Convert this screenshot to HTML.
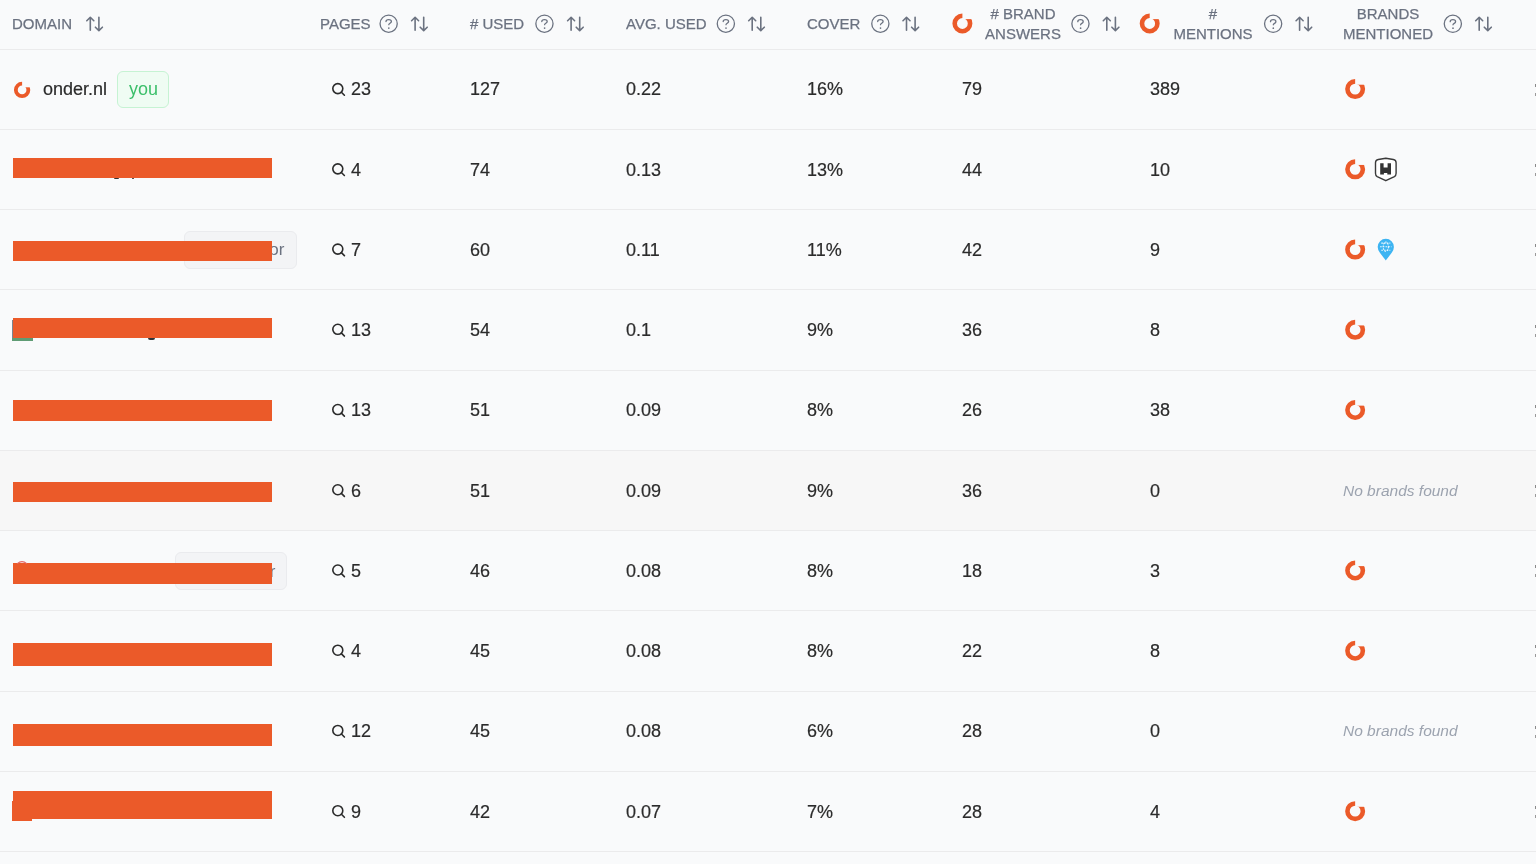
<!DOCTYPE html>
<html><head><meta charset="utf-8"><style>
html,body{margin:0;padding:0}
body{width:1536px;height:864px;overflow:hidden;background:#f9fafb;position:relative;font-family:"Liberation Sans",sans-serif}
.t{position:absolute;white-space:nowrap;will-change:transform}
.row{position:absolute;left:0;width:1536px}
.bl{position:absolute;left:0;width:1536px;height:1px;background:#ebebec}
</style></head><body>
<div class="bl" style="top:48.7px"></div>
<div class="t" style="left:12.00px;top:13.80px;font-size:15px;line-height:20px;color:#6b7280;;-webkit-text-stroke:0.25px #6b7280">DOMAIN</div>
<svg style="position:absolute;left:86px;top:16px" width="19" height="18" viewBox="0 0 19 18"><g transform="translate(0.000 0.300)"><g fill="none" stroke="#6b7280" stroke-width="1.6" stroke-linecap="round" stroke-linejoin="round"><path d="M4.3 14.0 V1.0 M0.8 4.4 L4.3 1.0 L7.8 4.4"/><path d="M12.9 1.0 V14.3 M9.4 10.9 L12.9 14.3 L16.4 10.9"/></g></g></svg>
<div class="t" style="left:319.50px;top:13.80px;font-size:15px;line-height:20px;color:#6b7280;;-webkit-text-stroke:0.25px #6b7280">PAGES</div>
<svg style="position:absolute;left:379px;top:14px" width="20" height="20" viewBox="0 0 20 20"><g transform="translate(0.400 0.300)"><circle cx="9.25" cy="9.39" r="8.6" fill="none" stroke="#6b7280" stroke-width="1.3"/><path d="M6.6 7.3 C6.6 5.9 7.8 5.25 9.3 5.25 C10.9 5.25 12.0 6.1 12.0 7.3 C12.0 8.9 9.4 9.0 9.4 10.4" fill="none" stroke="#6b7280" stroke-width="1.3" stroke-linecap="round"/><circle cx="9.4" cy="13.8" r="0.85" fill="#6b7280"/></g></svg>
<svg style="position:absolute;left:410px;top:16px" width="19" height="18" viewBox="0 0 19 18"><g transform="translate(0.800 0.300)"><g fill="none" stroke="#6b7280" stroke-width="1.6" stroke-linecap="round" stroke-linejoin="round"><path d="M4.3 14.0 V1.0 M0.8 4.4 L4.3 1.0 L7.8 4.4"/><path d="M12.9 1.0 V14.3 M9.4 10.9 L12.9 14.3 L16.4 10.9"/></g></g></svg>
<div class="t" style="left:470.30px;top:13.80px;font-size:15px;line-height:20px;color:#6b7280;;-webkit-text-stroke:0.25px #6b7280"># USED</div>
<svg style="position:absolute;left:535px;top:14px" width="20" height="20" viewBox="0 0 20 20"><g transform="translate(0.200 0.300)"><circle cx="9.25" cy="9.39" r="8.6" fill="none" stroke="#6b7280" stroke-width="1.3"/><path d="M6.6 7.3 C6.6 5.9 7.8 5.25 9.3 5.25 C10.9 5.25 12.0 6.1 12.0 7.3 C12.0 8.9 9.4 9.0 9.4 10.4" fill="none" stroke="#6b7280" stroke-width="1.3" stroke-linecap="round"/><circle cx="9.4" cy="13.8" r="0.85" fill="#6b7280"/></g></svg>
<svg style="position:absolute;left:566px;top:16px" width="19" height="18" viewBox="0 0 19 18"><g transform="translate(0.800 0.300)"><g fill="none" stroke="#6b7280" stroke-width="1.6" stroke-linecap="round" stroke-linejoin="round"><path d="M4.3 14.0 V1.0 M0.8 4.4 L4.3 1.0 L7.8 4.4"/><path d="M12.9 1.0 V14.3 M9.4 10.9 L12.9 14.3 L16.4 10.9"/></g></g></svg>
<div class="t" style="left:626.00px;top:13.80px;font-size:15px;line-height:20px;color:#6b7280;;-webkit-text-stroke:0.25px #6b7280">AVG. USED</div>
<svg style="position:absolute;left:716px;top:14px" width="20" height="20" viewBox="0 0 20 20"><g transform="translate(0.600 0.300)"><circle cx="9.25" cy="9.39" r="8.6" fill="none" stroke="#6b7280" stroke-width="1.3"/><path d="M6.6 7.3 C6.6 5.9 7.8 5.25 9.3 5.25 C10.9 5.25 12.0 6.1 12.0 7.3 C12.0 8.9 9.4 9.0 9.4 10.4" fill="none" stroke="#6b7280" stroke-width="1.3" stroke-linecap="round"/><circle cx="9.4" cy="13.8" r="0.85" fill="#6b7280"/></g></svg>
<svg style="position:absolute;left:747px;top:16px" width="19" height="18" viewBox="0 0 19 18"><g transform="translate(0.900 0.300)"><g fill="none" stroke="#6b7280" stroke-width="1.6" stroke-linecap="round" stroke-linejoin="round"><path d="M4.3 14.0 V1.0 M0.8 4.4 L4.3 1.0 L7.8 4.4"/><path d="M12.9 1.0 V14.3 M9.4 10.9 L12.9 14.3 L16.4 10.9"/></g></g></svg>
<div class="t" style="left:807.30px;top:13.80px;font-size:15px;line-height:20px;color:#6b7280;;-webkit-text-stroke:0.25px #6b7280">COVER</div>
<svg style="position:absolute;left:871px;top:14px" width="20" height="20" viewBox="0 0 20 20"><g transform="translate(0.100 0.300)"><circle cx="9.25" cy="9.39" r="8.6" fill="none" stroke="#6b7280" stroke-width="1.3"/><path d="M6.6 7.3 C6.6 5.9 7.8 5.25 9.3 5.25 C10.9 5.25 12.0 6.1 12.0 7.3 C12.0 8.9 9.4 9.0 9.4 10.4" fill="none" stroke="#6b7280" stroke-width="1.3" stroke-linecap="round"/><circle cx="9.4" cy="13.8" r="0.85" fill="#6b7280"/></g></svg>
<svg style="position:absolute;left:902px;top:16px" width="19" height="18" viewBox="0 0 19 18"><g transform="translate(0.200 0.300)"><g fill="none" stroke="#6b7280" stroke-width="1.6" stroke-linecap="round" stroke-linejoin="round"><path d="M4.3 14.0 V1.0 M0.8 4.4 L4.3 1.0 L7.8 4.4"/><path d="M12.9 1.0 V14.3 M9.4 10.9 L12.9 14.3 L16.4 10.9"/></g></g></svg>
<svg style="position:absolute;left:951px;top:12px" width="23" height="23" viewBox="0 0 23 23"><g transform="translate(0.400 0.500)"><defs><mask id="m1" maskUnits="userSpaceOnUse" x="-2" y="-2" width="26" height="26"><rect x="-2" y="-2" width="26" height="26" fill="#fff"/><rect x="11.00" y="-2" width="26" height="8.60" fill="#000"/></mask></defs><circle cx="11.00" cy="11.00" r="7.70" fill="none" stroke="#eb5a29" stroke-width="4.60" mask="url(#m1)"/></g></svg>
<div class="t" style="left:922.80px;width:200px;text-align:center;top:4.00px;font-size:15px;line-height:20px;color:#6b7280;-webkit-text-stroke:0.25px #6b7280"># BRAND</div>
<div class="t" style="left:922.80px;width:200px;text-align:center;top:24.00px;font-size:15px;line-height:20px;color:#6b7280;-webkit-text-stroke:0.25px #6b7280">ANSWERS</div>
<svg style="position:absolute;left:1071px;top:14px" width="20" height="20" viewBox="0 0 20 20"><g transform="translate(0.200 0.400)"><circle cx="9.25" cy="9.39" r="8.6" fill="none" stroke="#6b7280" stroke-width="1.3"/><path d="M6.6 7.3 C6.6 5.9 7.8 5.25 9.3 5.25 C10.9 5.25 12.0 6.1 12.0 7.3 C12.0 8.9 9.4 9.0 9.4 10.4" fill="none" stroke="#6b7280" stroke-width="1.3" stroke-linecap="round"/><circle cx="9.4" cy="13.8" r="0.85" fill="#6b7280"/></g></svg>
<svg style="position:absolute;left:1102px;top:16px" width="19" height="18" viewBox="0 0 19 18"><g transform="translate(0.500 0.300)"><g fill="none" stroke="#6b7280" stroke-width="1.6" stroke-linecap="round" stroke-linejoin="round"><path d="M4.3 14.0 V1.0 M0.8 4.4 L4.3 1.0 L7.8 4.4"/><path d="M12.9 1.0 V14.3 M9.4 10.9 L12.9 14.3 L16.4 10.9"/></g></g></svg>
<svg style="position:absolute;left:1138px;top:12px" width="23" height="23" viewBox="0 0 23 23"><g transform="translate(0.700 0.500)"><defs><mask id="m2" maskUnits="userSpaceOnUse" x="-2" y="-2" width="26" height="26"><rect x="-2" y="-2" width="26" height="26" fill="#fff"/><rect x="11.00" y="-2" width="26" height="8.60" fill="#000"/></mask></defs><circle cx="11.00" cy="11.00" r="7.70" fill="none" stroke="#eb5a29" stroke-width="4.60" mask="url(#m2)"/></g></svg>
<div class="t" style="left:1112.90px;width:200px;text-align:center;top:4.00px;font-size:15px;line-height:20px;color:#6b7280;-webkit-text-stroke:0.25px #6b7280">#</div>
<div class="t" style="left:1112.90px;width:200px;text-align:center;top:24.00px;font-size:15px;line-height:20px;color:#6b7280;-webkit-text-stroke:0.25px #6b7280">MENTIONS</div>
<svg style="position:absolute;left:1263px;top:14px" width="20" height="20" viewBox="0 0 20 20"><g transform="translate(0.900 0.400)"><circle cx="9.25" cy="9.39" r="8.6" fill="none" stroke="#6b7280" stroke-width="1.3"/><path d="M6.6 7.3 C6.6 5.9 7.8 5.25 9.3 5.25 C10.9 5.25 12.0 6.1 12.0 7.3 C12.0 8.9 9.4 9.0 9.4 10.4" fill="none" stroke="#6b7280" stroke-width="1.3" stroke-linecap="round"/><circle cx="9.4" cy="13.8" r="0.85" fill="#6b7280"/></g></svg>
<svg style="position:absolute;left:1295px;top:16px" width="19" height="18" viewBox="0 0 19 18"><g transform="translate(0.300 0.300)"><g fill="none" stroke="#6b7280" stroke-width="1.6" stroke-linecap="round" stroke-linejoin="round"><path d="M4.3 14.0 V1.0 M0.8 4.4 L4.3 1.0 L7.8 4.4"/><path d="M12.9 1.0 V14.3 M9.4 10.9 L12.9 14.3 L16.4 10.9"/></g></g></svg>
<div class="t" style="left:1287.50px;width:200px;text-align:center;top:4.00px;font-size:15px;line-height:20px;color:#6b7280;-webkit-text-stroke:0.25px #6b7280">BRANDS</div>
<div class="t" style="left:1287.50px;width:200px;text-align:center;top:24.00px;font-size:15px;line-height:20px;color:#6b7280;-webkit-text-stroke:0.25px #6b7280">MENTIONED</div>
<svg style="position:absolute;left:1443px;top:14px" width="20" height="20" viewBox="0 0 20 20"><g transform="translate(0.600 0.400)"><circle cx="9.25" cy="9.39" r="8.6" fill="none" stroke="#6b7280" stroke-width="1.3"/><path d="M6.6 7.3 C6.6 5.9 7.8 5.25 9.3 5.25 C10.9 5.25 12.0 6.1 12.0 7.3 C12.0 8.9 9.4 9.0 9.4 10.4" fill="none" stroke="#6b7280" stroke-width="1.3" stroke-linecap="round"/><circle cx="9.4" cy="13.8" r="0.85" fill="#6b7280"/></g></svg>
<svg style="position:absolute;left:1474px;top:16px" width="19" height="18" viewBox="0 0 19 18"><g transform="translate(0.900 0.300)"><g fill="none" stroke="#6b7280" stroke-width="1.6" stroke-linecap="round" stroke-linejoin="round"><path d="M4.3 14.0 V1.0 M0.8 4.4 L4.3 1.0 L7.8 4.4"/><path d="M12.9 1.0 V14.3 M9.4 10.9 L12.9 14.3 L16.4 10.9"/></g></g></svg>
<div class="row" style="top:49.20px;height:80.23px;background:transparent"></div>
<svg style="position:absolute;left:331px;top:82px" width="17" height="17" viewBox="0 0 17 17"><g transform="translate(0.000 0.115)"><circle cx="6.8" cy="6.5" r="5.0" fill="none" stroke="#2b2b2b" stroke-width="1.6"/><path d="M10.4 10.1 L13.4 13.1" stroke="#2b2b2b" stroke-width="1.6" stroke-linecap="round"/></g></svg>
<div class="t" style="left:351.00px;top:78.46px;font-size:18px;line-height:23px;color:#2b2b2b;-webkit-text-stroke:0.2px #2b2b2b">23</div>
<div class="t" style="left:470.00px;top:78.46px;font-size:18px;line-height:23px;color:#2b2b2b;-webkit-text-stroke:0.2px #2b2b2b">127</div>
<div class="t" style="left:626.00px;top:78.46px;font-size:18px;line-height:23px;color:#2b2b2b;-webkit-text-stroke:0.2px #2b2b2b">0.22</div>
<div class="t" style="left:807.00px;top:78.46px;font-size:18px;line-height:23px;color:#2b2b2b;-webkit-text-stroke:0.2px #2b2b2b">16%</div>
<div class="t" style="left:962.00px;top:78.46px;font-size:18px;line-height:23px;color:#2b2b2b;-webkit-text-stroke:0.2px #2b2b2b">79</div>
<div class="t" style="left:1150.00px;top:78.46px;font-size:18px;line-height:23px;color:#2b2b2b;-webkit-text-stroke:0.2px #2b2b2b">389</div>
<svg style="position:absolute;left:1344px;top:78px" width="23" height="23" viewBox="0 0 23 23"><g transform="translate(0.150 0.115)"><defs><mask id="m3" maskUnits="userSpaceOnUse" x="-2" y="-2" width="26" height="26"><rect x="-2" y="-2" width="26" height="26" fill="#fff"/><rect x="11.00" y="-2" width="26" height="8.60" fill="#000"/></mask></defs><circle cx="11.00" cy="11.00" r="7.70" fill="none" stroke="#eb5a29" stroke-width="4.60" mask="url(#m3)"/></g></svg>
<div style="position:absolute;left:1535px;top:83.81px;width:1px;height:3px;background:#8a8a8a"></div>
<div style="position:absolute;left:1535px;top:92.81px;width:1px;height:3px;background:#9a9a9a"></div>
<div class="row" style="top:129.43px;height:80.23px;background:transparent"></div>
<svg style="position:absolute;left:331px;top:162px" width="17" height="17" viewBox="0 0 17 17"><g transform="translate(0.000 0.345)"><circle cx="6.8" cy="6.5" r="5.0" fill="none" stroke="#2b2b2b" stroke-width="1.6"/><path d="M10.4 10.1 L13.4 13.1" stroke="#2b2b2b" stroke-width="1.6" stroke-linecap="round"/></g></svg>
<div class="t" style="left:351.00px;top:158.69px;font-size:18px;line-height:23px;color:#2b2b2b;-webkit-text-stroke:0.2px #2b2b2b">4</div>
<div class="t" style="left:470.00px;top:158.69px;font-size:18px;line-height:23px;color:#2b2b2b;-webkit-text-stroke:0.2px #2b2b2b">74</div>
<div class="t" style="left:626.00px;top:158.69px;font-size:18px;line-height:23px;color:#2b2b2b;-webkit-text-stroke:0.2px #2b2b2b">0.13</div>
<div class="t" style="left:807.00px;top:158.69px;font-size:18px;line-height:23px;color:#2b2b2b;-webkit-text-stroke:0.2px #2b2b2b">13%</div>
<div class="t" style="left:962.00px;top:158.69px;font-size:18px;line-height:23px;color:#2b2b2b;-webkit-text-stroke:0.2px #2b2b2b">44</div>
<div class="t" style="left:1150.00px;top:158.69px;font-size:18px;line-height:23px;color:#2b2b2b;-webkit-text-stroke:0.2px #2b2b2b">10</div>
<svg style="position:absolute;left:1344px;top:158px" width="23" height="23" viewBox="0 0 23 23"><g transform="translate(0.150 0.345)"><defs><mask id="m4" maskUnits="userSpaceOnUse" x="-2" y="-2" width="26" height="26"><rect x="-2" y="-2" width="26" height="26" fill="#fff"/><rect x="11.00" y="-2" width="26" height="8.60" fill="#000"/></mask></defs><circle cx="11.00" cy="11.00" r="7.70" fill="none" stroke="#eb5a29" stroke-width="4.60" mask="url(#m4)"/></g></svg>
<svg style="position:absolute;left:1372px;top:154px" width="28" height="30" viewBox="0 0 28 30"><g transform="translate(0.000 0.945)"><path d="M13.8 3.3 L21.3 4.6 Q24.1 5.1 24.1 7.8 V18.3 Q24.1 20.6 22.4 21.6 L13.8 25.8 L5.2 21.6 Q3.5 20.6 3.5 18.3 V7.8 Q3.5 5.1 6.3 4.6 Z" fill="#fff" stroke="#3a3a3a" stroke-width="1.4" stroke-linejoin="round"/><path d="M8.2 8.2 H11.6 V12.6 H15.6 V8.2 H19 V19.5 H15.3 V18.1 H11.9 V19.5 H8.2 Z" fill="#333"/></g></svg>
<div style="position:absolute;left:1535px;top:164.05px;width:1px;height:3px;background:#8a8a8a"></div>
<div style="position:absolute;left:1535px;top:173.05px;width:1px;height:3px;background:#9a9a9a"></div>
<div class="row" style="top:209.66px;height:80.23px;background:transparent"></div>
<svg style="position:absolute;left:331px;top:242px" width="17" height="17" viewBox="0 0 17 17"><g transform="translate(0.000 0.575)"><circle cx="6.8" cy="6.5" r="5.0" fill="none" stroke="#2b2b2b" stroke-width="1.6"/><path d="M10.4 10.1 L13.4 13.1" stroke="#2b2b2b" stroke-width="1.6" stroke-linecap="round"/></g></svg>
<div class="t" style="left:351.00px;top:238.92px;font-size:18px;line-height:23px;color:#2b2b2b;-webkit-text-stroke:0.2px #2b2b2b">7</div>
<div class="t" style="left:470.00px;top:238.92px;font-size:18px;line-height:23px;color:#2b2b2b;-webkit-text-stroke:0.2px #2b2b2b">60</div>
<div class="t" style="left:626.00px;top:238.92px;font-size:18px;line-height:23px;color:#2b2b2b;-webkit-text-stroke:0.2px #2b2b2b">0.11</div>
<div class="t" style="left:807.00px;top:238.92px;font-size:18px;line-height:23px;color:#2b2b2b;-webkit-text-stroke:0.2px #2b2b2b">11%</div>
<div class="t" style="left:962.00px;top:238.92px;font-size:18px;line-height:23px;color:#2b2b2b;-webkit-text-stroke:0.2px #2b2b2b">42</div>
<div class="t" style="left:1150.00px;top:238.92px;font-size:18px;line-height:23px;color:#2b2b2b;-webkit-text-stroke:0.2px #2b2b2b">9</div>
<svg style="position:absolute;left:1344px;top:238px" width="23" height="23" viewBox="0 0 23 23"><g transform="translate(0.150 0.575)"><defs><mask id="m5" maskUnits="userSpaceOnUse" x="-2" y="-2" width="26" height="26"><rect x="-2" y="-2" width="26" height="26" fill="#fff"/><rect x="11.00" y="-2" width="26" height="8.60" fill="#000"/></mask></defs><circle cx="11.00" cy="11.00" r="7.70" fill="none" stroke="#eb5a29" stroke-width="4.60" mask="url(#m5)"/></g></svg>
<svg style="position:absolute;left:1377px;top:238px" width="18" height="24" viewBox="0 0 18 24"><g transform="translate(0.300 0.475)"><path d="M8.5 22.0 Q7.9 21.4 2.6 14.2 Q0.4 11.4 0.4 8.4 A8.1 8.1 0 0 1 16.6 8.4 Q16.6 11.4 14.4 14.2 Q9.1 21.4 8.5 22.0 Z" fill="#3db4f2"/><g fill="none" stroke="#fff" stroke-width="1.1" opacity="0.9" stroke-dasharray="1.6 1.1"><path d="M2.8 8.2 H14.2 M4.0 4.6 H13 M4.0 11.8 H13"/><ellipse cx="8.5" cy="8.2" rx="2.6" ry="4.6"/></g></g></svg>
<div style="position:absolute;left:1535px;top:244.28px;width:1px;height:3px;background:#8a8a8a"></div>
<div style="position:absolute;left:1535px;top:253.28px;width:1px;height:3px;background:#9a9a9a"></div>
<div class="row" style="top:289.89px;height:80.23px;background:transparent"></div>
<svg style="position:absolute;left:331px;top:322px" width="17" height="17" viewBox="0 0 17 17"><g transform="translate(0.000 0.805)"><circle cx="6.8" cy="6.5" r="5.0" fill="none" stroke="#2b2b2b" stroke-width="1.6"/><path d="M10.4 10.1 L13.4 13.1" stroke="#2b2b2b" stroke-width="1.6" stroke-linecap="round"/></g></svg>
<div class="t" style="left:351.00px;top:319.15px;font-size:18px;line-height:23px;color:#2b2b2b;-webkit-text-stroke:0.2px #2b2b2b">13</div>
<div class="t" style="left:470.00px;top:319.15px;font-size:18px;line-height:23px;color:#2b2b2b;-webkit-text-stroke:0.2px #2b2b2b">54</div>
<div class="t" style="left:626.00px;top:319.15px;font-size:18px;line-height:23px;color:#2b2b2b;-webkit-text-stroke:0.2px #2b2b2b">0.1</div>
<div class="t" style="left:807.00px;top:319.15px;font-size:18px;line-height:23px;color:#2b2b2b;-webkit-text-stroke:0.2px #2b2b2b">9%</div>
<div class="t" style="left:962.00px;top:319.15px;font-size:18px;line-height:23px;color:#2b2b2b;-webkit-text-stroke:0.2px #2b2b2b">36</div>
<div class="t" style="left:1150.00px;top:319.15px;font-size:18px;line-height:23px;color:#2b2b2b;-webkit-text-stroke:0.2px #2b2b2b">8</div>
<svg style="position:absolute;left:1344px;top:318px" width="23" height="23" viewBox="0 0 23 23"><g transform="translate(0.150 0.805)"><defs><mask id="m6" maskUnits="userSpaceOnUse" x="-2" y="-2" width="26" height="26"><rect x="-2" y="-2" width="26" height="26" fill="#fff"/><rect x="11.00" y="-2" width="26" height="8.60" fill="#000"/></mask></defs><circle cx="11.00" cy="11.00" r="7.70" fill="none" stroke="#eb5a29" stroke-width="4.60" mask="url(#m6)"/></g></svg>
<div style="position:absolute;left:1535px;top:324.50px;width:1px;height:3px;background:#8a8a8a"></div>
<div style="position:absolute;left:1535px;top:333.50px;width:1px;height:3px;background:#9a9a9a"></div>
<div class="row" style="top:370.12px;height:80.23px;background:transparent"></div>
<svg style="position:absolute;left:331px;top:403px" width="17" height="17" viewBox="0 0 17 17"><g transform="translate(0.000 0.035)"><circle cx="6.8" cy="6.5" r="5.0" fill="none" stroke="#2b2b2b" stroke-width="1.6"/><path d="M10.4 10.1 L13.4 13.1" stroke="#2b2b2b" stroke-width="1.6" stroke-linecap="round"/></g></svg>
<div class="t" style="left:351.00px;top:399.38px;font-size:18px;line-height:23px;color:#2b2b2b;-webkit-text-stroke:0.2px #2b2b2b">13</div>
<div class="t" style="left:470.00px;top:399.38px;font-size:18px;line-height:23px;color:#2b2b2b;-webkit-text-stroke:0.2px #2b2b2b">51</div>
<div class="t" style="left:626.00px;top:399.38px;font-size:18px;line-height:23px;color:#2b2b2b;-webkit-text-stroke:0.2px #2b2b2b">0.09</div>
<div class="t" style="left:807.00px;top:399.38px;font-size:18px;line-height:23px;color:#2b2b2b;-webkit-text-stroke:0.2px #2b2b2b">8%</div>
<div class="t" style="left:962.00px;top:399.38px;font-size:18px;line-height:23px;color:#2b2b2b;-webkit-text-stroke:0.2px #2b2b2b">26</div>
<div class="t" style="left:1150.00px;top:399.38px;font-size:18px;line-height:23px;color:#2b2b2b;-webkit-text-stroke:0.2px #2b2b2b">38</div>
<svg style="position:absolute;left:1344px;top:399px" width="23" height="23" viewBox="0 0 23 23"><g transform="translate(0.150 0.035)"><defs><mask id="m7" maskUnits="userSpaceOnUse" x="-2" y="-2" width="26" height="26"><rect x="-2" y="-2" width="26" height="26" fill="#fff"/><rect x="11.00" y="-2" width="26" height="8.60" fill="#000"/></mask></defs><circle cx="11.00" cy="11.00" r="7.70" fill="none" stroke="#eb5a29" stroke-width="4.60" mask="url(#m7)"/></g></svg>
<div style="position:absolute;left:1535px;top:404.74px;width:1px;height:3px;background:#8a8a8a"></div>
<div style="position:absolute;left:1535px;top:413.74px;width:1px;height:3px;background:#9a9a9a"></div>
<div class="row" style="top:450.35px;height:80.23px;background:#f7f7f7"></div>
<svg style="position:absolute;left:331px;top:483px" width="17" height="17" viewBox="0 0 17 17"><g transform="translate(0.000 0.265)"><circle cx="6.8" cy="6.5" r="5.0" fill="none" stroke="#2b2b2b" stroke-width="1.6"/><path d="M10.4 10.1 L13.4 13.1" stroke="#2b2b2b" stroke-width="1.6" stroke-linecap="round"/></g></svg>
<div class="t" style="left:351.00px;top:479.61px;font-size:18px;line-height:23px;color:#2b2b2b;-webkit-text-stroke:0.2px #2b2b2b">6</div>
<div class="t" style="left:470.00px;top:479.61px;font-size:18px;line-height:23px;color:#2b2b2b;-webkit-text-stroke:0.2px #2b2b2b">51</div>
<div class="t" style="left:626.00px;top:479.61px;font-size:18px;line-height:23px;color:#2b2b2b;-webkit-text-stroke:0.2px #2b2b2b">0.09</div>
<div class="t" style="left:807.00px;top:479.61px;font-size:18px;line-height:23px;color:#2b2b2b;-webkit-text-stroke:0.2px #2b2b2b">9%</div>
<div class="t" style="left:962.00px;top:479.61px;font-size:18px;line-height:23px;color:#2b2b2b;-webkit-text-stroke:0.2px #2b2b2b">36</div>
<div class="t" style="left:1150.00px;top:479.61px;font-size:18px;line-height:23px;color:#2b2b2b;-webkit-text-stroke:0.2px #2b2b2b">0</div>
<div class="t" style="left:1343.30px;top:480.58px;font-size:15.5px;line-height:20px;color:#9ca3af;font-style:italic">No brands found</div>
<div style="position:absolute;left:1535px;top:484.97px;width:1px;height:3px;background:#8a8a8a"></div>
<div style="position:absolute;left:1535px;top:493.97px;width:1px;height:3px;background:#9a9a9a"></div>
<div class="row" style="top:530.58px;height:80.23px;background:transparent"></div>
<svg style="position:absolute;left:331px;top:563px" width="17" height="17" viewBox="0 0 17 17"><g transform="translate(0.000 0.495)"><circle cx="6.8" cy="6.5" r="5.0" fill="none" stroke="#2b2b2b" stroke-width="1.6"/><path d="M10.4 10.1 L13.4 13.1" stroke="#2b2b2b" stroke-width="1.6" stroke-linecap="round"/></g></svg>
<div class="t" style="left:351.00px;top:559.84px;font-size:18px;line-height:23px;color:#2b2b2b;-webkit-text-stroke:0.2px #2b2b2b">5</div>
<div class="t" style="left:470.00px;top:559.84px;font-size:18px;line-height:23px;color:#2b2b2b;-webkit-text-stroke:0.2px #2b2b2b">46</div>
<div class="t" style="left:626.00px;top:559.84px;font-size:18px;line-height:23px;color:#2b2b2b;-webkit-text-stroke:0.2px #2b2b2b">0.08</div>
<div class="t" style="left:807.00px;top:559.84px;font-size:18px;line-height:23px;color:#2b2b2b;-webkit-text-stroke:0.2px #2b2b2b">8%</div>
<div class="t" style="left:962.00px;top:559.84px;font-size:18px;line-height:23px;color:#2b2b2b;-webkit-text-stroke:0.2px #2b2b2b">18</div>
<div class="t" style="left:1150.00px;top:559.84px;font-size:18px;line-height:23px;color:#2b2b2b;-webkit-text-stroke:0.2px #2b2b2b">3</div>
<svg style="position:absolute;left:1344px;top:559px" width="23" height="23" viewBox="0 0 23 23"><g transform="translate(0.150 0.495)"><defs><mask id="m8" maskUnits="userSpaceOnUse" x="-2" y="-2" width="26" height="26"><rect x="-2" y="-2" width="26" height="26" fill="#fff"/><rect x="11.00" y="-2" width="26" height="8.60" fill="#000"/></mask></defs><circle cx="11.00" cy="11.00" r="7.70" fill="none" stroke="#eb5a29" stroke-width="4.60" mask="url(#m8)"/></g></svg>
<div style="position:absolute;left:1535px;top:565.20px;width:1px;height:3px;background:#8a8a8a"></div>
<div style="position:absolute;left:1535px;top:574.20px;width:1px;height:3px;background:#9a9a9a"></div>
<div class="row" style="top:610.81px;height:80.23px;background:transparent"></div>
<svg style="position:absolute;left:331px;top:643px" width="17" height="17" viewBox="0 0 17 17"><g transform="translate(0.000 0.725)"><circle cx="6.8" cy="6.5" r="5.0" fill="none" stroke="#2b2b2b" stroke-width="1.6"/><path d="M10.4 10.1 L13.4 13.1" stroke="#2b2b2b" stroke-width="1.6" stroke-linecap="round"/></g></svg>
<div class="t" style="left:351.00px;top:640.07px;font-size:18px;line-height:23px;color:#2b2b2b;-webkit-text-stroke:0.2px #2b2b2b">4</div>
<div class="t" style="left:470.00px;top:640.07px;font-size:18px;line-height:23px;color:#2b2b2b;-webkit-text-stroke:0.2px #2b2b2b">45</div>
<div class="t" style="left:626.00px;top:640.07px;font-size:18px;line-height:23px;color:#2b2b2b;-webkit-text-stroke:0.2px #2b2b2b">0.08</div>
<div class="t" style="left:807.00px;top:640.07px;font-size:18px;line-height:23px;color:#2b2b2b;-webkit-text-stroke:0.2px #2b2b2b">8%</div>
<div class="t" style="left:962.00px;top:640.07px;font-size:18px;line-height:23px;color:#2b2b2b;-webkit-text-stroke:0.2px #2b2b2b">22</div>
<div class="t" style="left:1150.00px;top:640.07px;font-size:18px;line-height:23px;color:#2b2b2b;-webkit-text-stroke:0.2px #2b2b2b">8</div>
<svg style="position:absolute;left:1344px;top:639px" width="23" height="23" viewBox="0 0 23 23"><g transform="translate(0.150 0.725)"><defs><mask id="m9" maskUnits="userSpaceOnUse" x="-2" y="-2" width="26" height="26"><rect x="-2" y="-2" width="26" height="26" fill="#fff"/><rect x="11.00" y="-2" width="26" height="8.60" fill="#000"/></mask></defs><circle cx="11.00" cy="11.00" r="7.70" fill="none" stroke="#eb5a29" stroke-width="4.60" mask="url(#m9)"/></g></svg>
<div style="position:absolute;left:1535px;top:645.43px;width:1px;height:3px;background:#8a8a8a"></div>
<div style="position:absolute;left:1535px;top:654.43px;width:1px;height:3px;background:#9a9a9a"></div>
<div class="row" style="top:691.04px;height:80.23px;background:transparent"></div>
<svg style="position:absolute;left:331px;top:723px" width="17" height="17" viewBox="0 0 17 17"><g transform="translate(0.000 0.955)"><circle cx="6.8" cy="6.5" r="5.0" fill="none" stroke="#2b2b2b" stroke-width="1.6"/><path d="M10.4 10.1 L13.4 13.1" stroke="#2b2b2b" stroke-width="1.6" stroke-linecap="round"/></g></svg>
<div class="t" style="left:351.00px;top:720.30px;font-size:18px;line-height:23px;color:#2b2b2b;-webkit-text-stroke:0.2px #2b2b2b">12</div>
<div class="t" style="left:470.00px;top:720.30px;font-size:18px;line-height:23px;color:#2b2b2b;-webkit-text-stroke:0.2px #2b2b2b">45</div>
<div class="t" style="left:626.00px;top:720.30px;font-size:18px;line-height:23px;color:#2b2b2b;-webkit-text-stroke:0.2px #2b2b2b">0.08</div>
<div class="t" style="left:807.00px;top:720.30px;font-size:18px;line-height:23px;color:#2b2b2b;-webkit-text-stroke:0.2px #2b2b2b">6%</div>
<div class="t" style="left:962.00px;top:720.30px;font-size:18px;line-height:23px;color:#2b2b2b;-webkit-text-stroke:0.2px #2b2b2b">28</div>
<div class="t" style="left:1150.00px;top:720.30px;font-size:18px;line-height:23px;color:#2b2b2b;-webkit-text-stroke:0.2px #2b2b2b">0</div>
<div class="t" style="left:1343.30px;top:721.27px;font-size:15.5px;line-height:20px;color:#9ca3af;font-style:italic">No brands found</div>
<div style="position:absolute;left:1535px;top:725.66px;width:1px;height:3px;background:#8a8a8a"></div>
<div style="position:absolute;left:1535px;top:734.66px;width:1px;height:3px;background:#9a9a9a"></div>
<div class="row" style="top:771.27px;height:80.23px;background:transparent"></div>
<svg style="position:absolute;left:331px;top:804px" width="17" height="17" viewBox="0 0 17 17"><g transform="translate(0.000 0.185)"><circle cx="6.8" cy="6.5" r="5.0" fill="none" stroke="#2b2b2b" stroke-width="1.6"/><path d="M10.4 10.1 L13.4 13.1" stroke="#2b2b2b" stroke-width="1.6" stroke-linecap="round"/></g></svg>
<div class="t" style="left:351.00px;top:800.53px;font-size:18px;line-height:23px;color:#2b2b2b;-webkit-text-stroke:0.2px #2b2b2b">9</div>
<div class="t" style="left:470.00px;top:800.53px;font-size:18px;line-height:23px;color:#2b2b2b;-webkit-text-stroke:0.2px #2b2b2b">42</div>
<div class="t" style="left:626.00px;top:800.53px;font-size:18px;line-height:23px;color:#2b2b2b;-webkit-text-stroke:0.2px #2b2b2b">0.07</div>
<div class="t" style="left:807.00px;top:800.53px;font-size:18px;line-height:23px;color:#2b2b2b;-webkit-text-stroke:0.2px #2b2b2b">7%</div>
<div class="t" style="left:962.00px;top:800.53px;font-size:18px;line-height:23px;color:#2b2b2b;-webkit-text-stroke:0.2px #2b2b2b">28</div>
<div class="t" style="left:1150.00px;top:800.53px;font-size:18px;line-height:23px;color:#2b2b2b;-webkit-text-stroke:0.2px #2b2b2b">4</div>
<svg style="position:absolute;left:1344px;top:800px" width="23" height="23" viewBox="0 0 23 23"><g transform="translate(0.150 0.185)"><defs><mask id="m10" maskUnits="userSpaceOnUse" x="-2" y="-2" width="26" height="26"><rect x="-2" y="-2" width="26" height="26" fill="#fff"/><rect x="11.00" y="-2" width="26" height="8.60" fill="#000"/></mask></defs><circle cx="11.00" cy="11.00" r="7.70" fill="none" stroke="#eb5a29" stroke-width="4.60" mask="url(#m10)"/></g></svg>
<div style="position:absolute;left:1535px;top:805.89px;width:1px;height:3px;background:#8a8a8a"></div>
<div style="position:absolute;left:1535px;top:814.89px;width:1px;height:3px;background:#9a9a9a"></div>
<svg style="position:absolute;left:12px;top:80px" width="20" height="20" viewBox="0 0 20 20"><g transform="translate(0.950 0.750)"><defs><mask id="m11" maskUnits="userSpaceOnUse" x="-2" y="-2" width="22.3" height="22.3"><rect x="-2" y="-2" width="22.3" height="22.3" fill="#fff"/><rect x="9.15" y="-2" width="22.3" height="8.55" fill="#000"/></mask></defs><circle cx="9.15" cy="9.15" r="6.25" fill="none" stroke="#eb5a29" stroke-width="3.80" mask="url(#m11)"/></g></svg>
<div class="t" style="left:43.00px;top:78.26px;font-size:18px;line-height:23px;color:#2b2b2b;-webkit-text-stroke:0.2px #2b2b2b">onder.nl</div>
<div style="position:absolute;left:117.2px;top:70.5px;width:51.8px;height:37.8px;box-sizing:border-box;border:1px solid #c6f3d3;background:#effcf3;border-radius:6px"></div>
<div class="t" style="left:128.50px;top:78.26px;font-size:18px;line-height:23px;color:#3bbf6a;">you</div>
<div style="position:absolute;left:184.1px;top:230.9px;width:112.6px;height:37.9px;box-sizing:border-box;border:1px solid #eaebee;background:#f3f4f6;border-radius:6px;overflow:hidden"><div class="t" style="right:11px;top:7.5px;font-size:17px;line-height:22px;color:#6b7280">competitor</div></div>
<div style="position:absolute;left:174.7px;top:552px;width:112px;height:37.7px;box-sizing:border-box;border:1px solid #eaebee;background:#f3f4f6;border-radius:6px;overflow:hidden"><div class="t" style="right:10px;top:7.5px;font-size:17px;line-height:22px;color:#6b7280">competitor</div></div>
<div style="position:absolute;left:12.9px;top:158.00px;width:259.10px;height:20.00px;background:#eb5a29"></div>
<div style="position:absolute;left:12.9px;top:240.80px;width:259.10px;height:20.20px;background:#eb5a29"></div>
<div style="position:absolute;left:12.9px;top:318.00px;width:259.10px;height:20.30px;background:#eb5a29"></div>
<div style="position:absolute;left:12.9px;top:400.30px;width:259.10px;height:20.50px;background:#eb5a29"></div>
<div style="position:absolute;left:12.9px;top:481.60px;width:259.10px;height:20.70px;background:#eb5a29"></div>
<div style="position:absolute;left:12.9px;top:562.90px;width:259.10px;height:21.10px;background:#eb5a29"></div>
<div style="position:absolute;left:12.9px;top:643.20px;width:259.10px;height:23.00px;background:#eb5a29"></div>
<div style="position:absolute;left:12.9px;top:723.80px;width:259.10px;height:22.60px;background:#eb5a29"></div>
<div style="position:absolute;left:12.9px;top:791.00px;width:259.10px;height:28.40px;background:#eb5a29"></div>
<div style="position:absolute;left:12.2px;top:800.8px;width:20.2px;height:20.6px;background:#eb5a29"></div>
<div style="position:absolute;left:12px;top:320px;width:1px;height:21px;background:#7b8590"></div>
<div style="position:absolute;left:12px;top:338.3px;width:20.5px;height:2.7px;background:#5f9c74"></div>
<div style="position:absolute;left:114.3px;top:177.8px;width:4.8px;height:1.6px;background:#333;border-radius:0 0 2px 2px"></div>
<div style="position:absolute;left:132.4px;top:177.8px;width:1.8px;height:1.4px;background:#555"></div>
<div style="position:absolute;left:148px;top:338px;width:6.5px;height:2px;background:#2e3338;border-radius:0 0 3px 3px"></div>
<svg style="position:absolute;left:15px;top:559px" width="14" height="6" viewBox="0 0 14 6"><path d="M2.2 4.6 Q7 0.6 11.8 4.6" fill="none" stroke="#e46a6a" stroke-width="1.1"/></svg>
<div class="bl" style="top:128.93px"></div>
<div class="bl" style="top:209.16px"></div>
<div class="bl" style="top:289.39px"></div>
<div class="bl" style="top:369.62px"></div>
<div class="bl" style="top:449.85px"></div>
<div class="bl" style="top:530.08px"></div>
<div class="bl" style="top:610.31px"></div>
<div class="bl" style="top:690.54px"></div>
<div class="bl" style="top:770.77px"></div>
<div class="bl" style="top:851.00px"></div>
</body></html>
